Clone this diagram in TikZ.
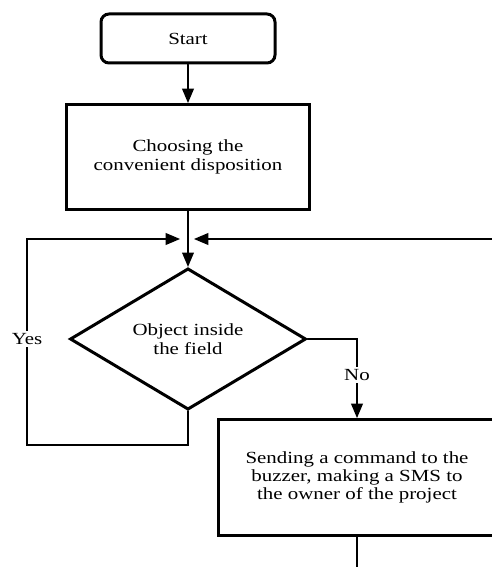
\documentclass[tikz,border=0pt]{standalone}
\usepackage{fontspec}
\setmainfont{Liberation Serif}[FakeStretch=1.23]
\usepackage{tikz}
\usetikzlibrary{arrows}
\usetikzlibrary{shapes.geometric}

\tikzset{term/.style={draw,line width=2.25pt,rounded corners=6pt,minimum width=130.5pt,minimum height=36.75pt,align=center},
  proc/.style={draw,line width=2.25pt,align=center,inner sep=0pt},
  decis/.style={diamond,draw,line width=2.25pt,minimum width=177pt,minimum height=84.75pt,align=center,inner sep=0pt},
  conn/.style={line width=1.5pt},
  lbl/.style={fill=white,inner sep=2pt}}

\begin{document}
\begin{tikzpicture}[line cap=round,>=triangle 45,x=0.75pt,y=-0.75pt,font=\fontsize{12.75}{13.8}\selectfont]
\useasboundingbox (0,0) rectangle (492,567);
\clip (0,0) rectangle (492,567);
\node[term] (start) at (188,38.5) {Start};
\node[proc,minimum width=182.25pt,minimum height=78.75pt] (choose) at (188,157) {Choosing the\\convenient disposition};
\node[decis] (test) at (188,339) {Object inside\\the field};
\node[proc,minimum width=207.75pt,minimum height=87pt] (sms) at (357,477.5) {Sending a command to the\\buzzer, making a SMS to\\the owner of the project};
\coordinate (jl) at (180,239);
\coordinate (jr) at (194,239);
% main flow
\draw[conn,->] (start) -- (choose);
\draw[conn,->] (choose) -- (test);
% yes: back to the top of the test
\draw[conn,->] (test.south) -- ++(0,34) -| (27,239) -- (jl);
\node[lbl] (yes) at (27,339) {Yes};
% no: alarm, then back again
\draw[conn,->] (test.east) -| (sms.north);
\node[lbl] (no) at (357,375) {No};
\draw[conn,->] (sms.south) -- ++(0,50) -| (510,239) -- (jr);
\end{tikzpicture}
\end{document}
